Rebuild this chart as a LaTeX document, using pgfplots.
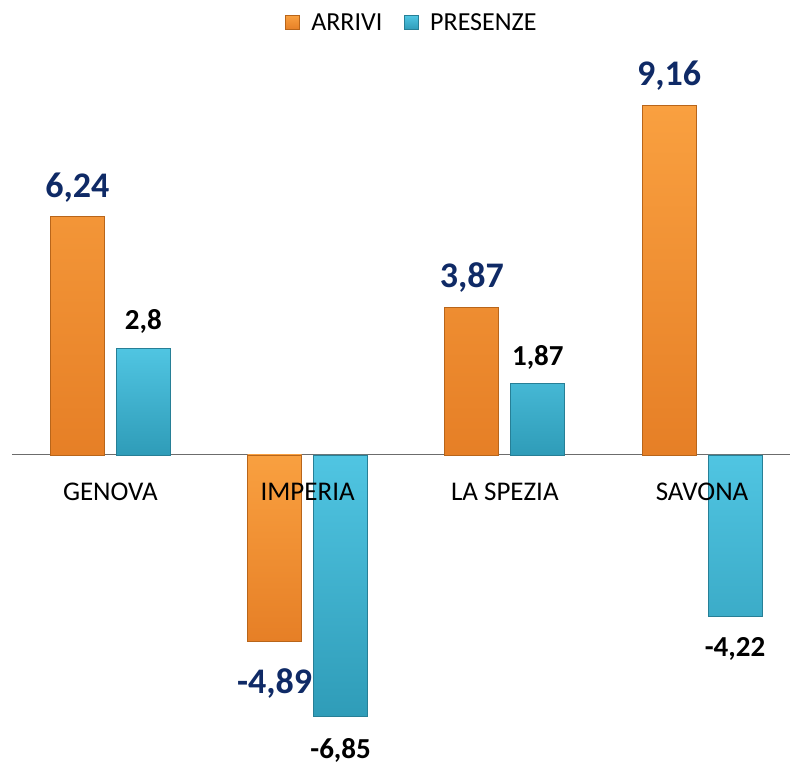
\documentclass[border=0pt]{standalone}
\usepackage{pgfplots}
\pgfplotsset{compat=1.18}
\usepackage{fontspec}
\setmainfont{Carlito}

\definecolor{orTop}{HTML}{F9A040}
\definecolor{orBot}{HTML}{E67F26}
\definecolor{orEdge}{HTML}{B8651A}
\definecolor{cyTop}{HTML}{50C5E2}
\definecolor{cyBot}{HTML}{2F9CB8}
\definecolor{cyEdge}{HTML}{277F96}
\definecolor{navy}{HTML}{0F2A66}

\begin{document}
\begin{tikzpicture}[
  orbar/.style={draw=orEdge, line width=0.8bp, top color=orTop, bottom color=orBot, bar shift=-33bp},
  cybar/.style={draw=cyEdge, line width=0.8bp, top color=cyTop, bottom color=cyBot, bar shift=33bp},
  navylab/.style={font=\bfseries\fontsize{36bp}{38bp}\selectfont, text=navy, inner sep=1bp},
  blacklab/.style={font=\bfseries\fontsize{29bp}{31bp}\selectfont, text=black, inner sep=1bp}
]
\begin{axis}[
  scale only axis,
  width=790bp, height=765bp,
  xmin=-0.560, xmax=3.446,
  ymin=-8.115, ymax=11.91,
  axis on top,
  axis x line=middle,
  axis y line=none,
  x axis line style={draw=none},
  xtick={0,1,2,3},
  xticklabels={GENOVA,IMPERIA,LA SPEZIA,SAVONA},
  xtick style={draw=none},
  xticklabel style={font=\fontsize{27bp}{29bp}\selectfont, anchor=north, yshift=-20bp},
  ytick=\empty,
  ybar, bar width=54bp,
  clip=false,
  nodes near coords,
  point meta=explicit symbolic,
  legend style={draw=none, fill=none, at={(0.5215,0.988)}, anchor=north,
    legend columns=2, font=\fontsize{26bp}{28bp}\selectfont,
    /tikz/every odd column/.append style={column sep=9bp},
    /tikz/every even column/.append style={column sep=20bp}},
  legend image code/.code={
    \draw[#1] (0bp,-7bp) rectangle (14bp,7bp);
  },
]
\draw[gray!85!black, line width=1bp] (axis cs:-0.5,0) -- (axis cs:3.6,0);
% ARRIVI
\addplot[orbar, nodes near coords style={navylab, anchor=south, yshift=13bp}]
  coordinates {(0,6.24) [6,24] (2,3.87) [3,87] (3,9.16) [9,16]};
\addlegendentry{ARRIVI}
\addplot[orbar, forget plot, nodes near coords style={navylab, anchor=north, yshift=-25bp}]
  coordinates {(1,-4.89) [-4,89]};
% PRESENZE
\addplot[cybar, nodes near coords style={blacklab, anchor=south, yshift=13bp}]
  coordinates {(0,2.8) [2,8] (2,1.87) [1,87]};
\addlegendentry{PRESENZE}
\addplot[cybar, forget plot, nodes near coords style={blacklab, anchor=north, yshift=-20bp}]
  coordinates {(1,-6.85) [-6,85] (3,-4.22) [-4,22]};
\end{axis}
\pgfresetboundingbox
\path (current axis.south west) rectangle (current axis.north east);
\end{tikzpicture}
\end{document}
